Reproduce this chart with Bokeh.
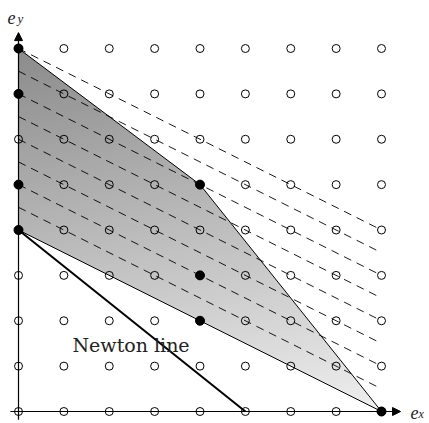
from bokeh.plotting import figure
from bokeh.models import Arrow, NormalHead, Range1d
from bokeh.core.properties import value
from bokeh.embed import file_html
from bokeh.resources import INLINE

# ---- data ----
grid_n = 8                                   # lattice 0..8 in both directions
filled_x = [0, 0, 0, 0, 4, 4, 4, 8]          # support points (filled dots)
filled_y = [8, 7, 5, 4, 5, 3, 2, 0]
poly_x = [0, 4, 8, 0]                        # Newton polygon vertices
poly_y = [8, 5, 0, 4]
newton_x = [0, 5]                            # Newton line endpoints
newton_y = [4, 0]
dash_levels = [9, 10, 11, 12, 13, 14, 15, 16]  # lines x + 2y = c
dash_w = (1, 2)
dash_xrange = (0, 8)
newton_label = "Newton line"

# ---- layout constants ----
S = 45.375          # px per unit
OX, OY = 18, 411    # page px of origin
PX, PY = 0, 0       # page offset of the figure
W, H = 429, 423

def clip(poly, a, b, c, ge):
    out = []
    n = len(poly)
    for i in range(n):
        p, q = poly[i], poly[(i + 1) % n]
        fp = a * p[0] + b * p[1] - c
        fq = a * q[0] + b * q[1] - c
        if not ge:
            fp, fq = -fp, -fq
        if fp >= 0:
            out.append(p)
        if (fp >= 0) != (fq >= 0):
            t = fp / (fp - fq)
            out.append((p[0] + t * (q[0] - p[0]), p[1] + t * (q[1] - p[1])))
    return out

p = figure(width=W, height=H, output_backend="svg", toolbar_location=None,
           min_border=0, outline_line_color=None)
p.x_range = Range1d((PX - OX) / S, (PX + W - OX) / S)
p.y_range = Range1d((OY - (PY + H)) / S, (OY - PY) / S)
p.axis.visible = False
p.xgrid.visible = False
p.ygrid.visible = False
p.background_fill_color = "white"

# gradient fill via bands
ua, ub = 2.0, -10.5
base = 223.0
poly = list(zip(poly_x, poly_y))
vals = [ua * x + ub * y for x, y in poly]
kmin, kmax = min(vals), max(vals)
N = 120
xs, ys, cols = [], [], []
for i in range(N):
    k0 = kmin + (kmax - kmin) * i / N
    k1 = kmin + (kmax - kmin) * (i + 1) / N + 0.4
    pc = clip(clip(poly, ua, ub, k0, True), ua, ub, k1, False)
    if len(pc) < 3:
        continue
    g = int(round(base + (k0 + k1 - 0.4) / 2))
    g = max(0, min(255, g))
    xs.append([q[0] for q in pc])
    ys.append([q[1] for q in pc])
    cols.append("#%02x%02x%02x" % (g, g, g))
p.patches(xs, ys, fill_color=cols, line_color=None)
p.patch(poly_x + [poly_x[0]], poly_y + [poly_y[0]], fill_color=None,
        line_color="black", line_width=1)

# dashed level lines
for c in dash_levels:
    x0, x1 = dash_xrange
    p.line([x0, x1], [(c - dash_w[0] * x0) / dash_w[1], (c - dash_w[0] * x1) / dash_w[1]],
           line_color="black", line_width=0.9, line_dash="8 6")

# Newton line
p.line(newton_x, newton_y, line_color="black", line_width=2)

# axes with arrows
p.add_layout(Arrow(end=NormalHead(size=8, fill_color="black", line_color="black", line_width=1),
                   x_start=-0.18, y_start=0, x_end=8.42, y_end=0,
                   line_color="black", line_width=1.2))
p.add_layout(Arrow(end=NormalHead(size=8, fill_color="black", line_color="black", line_width=1),
                   x_start=0, y_start=-0.18, x_end=0, y_end=8.35,
                   line_color="black", line_width=1.2))

# lattice points
gx = [i for i in range(grid_n + 1) for j in range(grid_n + 1)]
gy = [j for i in range(grid_n + 1) for j in range(grid_n + 1)]
p.scatter(gx, gy, size=8, marker="circle", fill_color=None,
          line_color="black", line_width=1)
p.scatter(filled_x, filled_y, size=9, marker="circle", fill_color="black",
          line_color="black")

# labels
p.text([1.19], [1.455], text=[newton_label], text_font=value("DejaVu Serif"),
       text_font_size="19px", text_baseline="alphabetic", text_align="left",
       text_color="#222222")
p.text([-0.24], [8.68], text=["e"], text_font=value("Liberation Serif"),
       text_font_style="italic", text_font_size="18px", text_baseline="alphabetic",
       text_color="#222222")
p.text([-0.02], [8.66], text=["y"], text_font=value("Liberation Serif"),
       text_font_style="italic", text_font_size="13px", text_baseline="alphabetic",
       text_color="#222222")
p.text([8.64], [-0.03], text=["e"], text_font=value("Liberation Serif"),
       text_font_style="italic", text_font_size="18px", text_baseline="alphabetic",
       text_color="#222222")
p.text([8.815], [-0.06], text=["x"], text_font=value("Liberation Serif"),
       text_font_style="italic", text_font_size="12px", text_baseline="alphabetic",
       text_color="#222222")

open("out.html", "w").write(file_html(p, INLINE))
